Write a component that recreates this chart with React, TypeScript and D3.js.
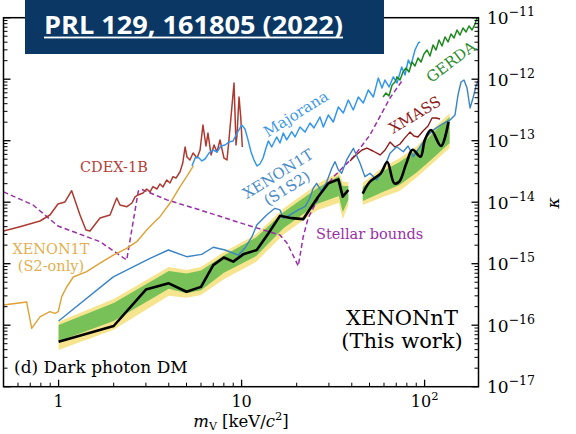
import React from 'react';
import * as d3 from 'd3';

// ---------------- data (mass in keV/c^2, kappa) ----------------
const nTMass1 = [1, 2, 3, 4, 5, 6, 7, 8, 9, 10.2, 12.1, 14, 16.2, 18.8, 21.7, 26.2, 29.8, 33.8, 35.7, 38.3];
const nTLimit1 = [5.4e-17, 9.7e-17, 3.8e-16, 4.8e-16, 3.5e-16, 4.2e-16, 9.5e-16, 1.26e-15, 1.08e-15, 1.42e-15, 1.67e-15, 3.1e-15, 6.0e-15, 5.5e-15, 5.3e-15, 1.23e-14, 2.03e-14, 2.35e-14, 1.23e-14, 1.58e-14];
const nTMass2 = [45.9, 50.2, 57.6, 62.5, 68.3, 72.6, 79.5, 85.9, 95, 100.3, 108.4, 122.9, 135.1];
const nTLimit2 = [1.38e-14, 2.15e-14, 2.95e-14, 4.5e-14, 2.03e-14, 2.15e-14, 4.3e-14, 7.1e-14, 5.5e-14, 1.03e-13, 1.49e-13, 8.2e-14, 2.04e-13];

const bandMass1 = [1, 2, 4, 5, 6, 8, 12, 17, 26, 34, 35.7, 38.3];
const band1Up2 = [1.14e-16, 2.67e-16, 8.8e-16, 7.9e-16, 8.8e-16, 1.55e-15, 3.0e-15, 8.0e-15, 1.98e-14, 3.1e-14, 2.13e-14, 2.13e-14];
const band1Up1 = [1.01e-16, 2.3e-16, 7.6e-16, 6.9e-16, 7.75e-16, 1.36e-15, 2.67e-15, 6.9e-15, 1.7e-14, 2.67e-14, 1.83e-14, 1.83e-14];
const band1Lo1 = [5.5e-17, 1.17e-16, 3.9e-16, 3.3e-16, 3.7e-16, 7.1e-16, 1.33e-15, 3.8e-15, 9.4e-15, 1.26e-14, 6.9e-15, 1.09e-14];
const band1Lo2 = [3.95e-17, 8.4e-17, 3.0e-16, 2.8e-16, 3.1e-16, 5.6e-16, 1.07e-15, 3.0e-15, 7.5e-15, 9.7e-15, 5.3e-15, 9.0e-15];

const bandMass2 = [45.9, 59, 73, 91, 111, 137];
const band2Up2 = [2.05e-14, 3.7e-14, 5.2e-14, 8.2e-14, 1.55e-13, 2.8e-13];
const band2Up1 = [1.77e-14, 3.2e-14, 4.5e-14, 7.1e-14, 1.33e-13, 2.43e-13];
const band2Lo1 = [1.05e-14, 1.47e-14, 1.9e-14, 3.1e-14, 5.2e-14, 9.2e-14];
const band2Lo2 = [9.0e-15, 1.22e-14, 1.52e-14, 2.57e-14, 4.33e-14, 7.6e-14];

const s1s2Mass = [1.0, 1.99, 3.16, 3.98, 5.01, 6.05, 7.0, 8.12, 9.6, 10.4, 11.4, 12.1, 13.7, 15.2, 16.2, 16.9, 18.4, 20.4, 22.2, 23.6, 24.6, 25.7, 27.4, 29.2, 31.1, 32.4, 33.8, 35.2, 37.5, 40.8, 44.4, 47.2, 50.3, 54.7, 59.5, 64.7, 70.4, 76.5, 81.2, 86.8, 94.4, 102.7, 111.6, 118.8, 126.6, 137.7, 146.6, 152.2, 158.1, 164.2, 170.5, 177.1, 183.9, 190.9, 197];
const s1s2Kappa = [1.17e-16, 6.1e-16, 1.22e-15, 1.67e-15, 1.3e-15, 1.42e-15, 1.85e-15, 1.67e-15, 1.38e-15, 1.78e-15, 2.75e-15, 4.26e-15, 6.2e-15, 7.96e-15, 7.5e-15, 5.47e-15, 6.2e-15, 7.5e-15, 8.45e-15, 1.16e-14, 1.68e-14, 2.03e-14, 1.48e-14, 2.15e-14, 3.56e-14, 4.56e-14, 3.34e-14, 2.95e-14, 4.86e-14, 7.52e-14, 4.29e-14, 2.6e-14, 2.95e-14, 2.3e-14, 3.34e-14, 6.24e-14, 7.99e-14, 6.62e-14, 8.2e-14, 5.5e-14, 7.99e-14, 1.16e-13, 1.49e-13, 1.69e-13, 1.92e-13, 2.17e-13, 2.62e-13, 5.53e-13, 9.0e-13, 9.7e-13, 7.2e-13, 3.4e-13, 4.95e-13, 7.75e-13, 9.7e-13];

const s2Mass = [0.5, 0.669, 0.713, 0.791, 0.843, 0.897, 0.956, 0.996, 1.04, 1.107, 1.203, 1.424, 1.684, 1.99, 2.356, 2.672, 3.03, 3.29, 3.58, 4.06, 4.61, 5.01, 5.45];
const s2Kappa = [2.13e-16, 2.38e-16, 8.9e-17, 1.37e-16, 1.52e-16, 1.66e-16, 1.56e-16, 1.66e-16, 2.91e-16, 4.18e-16, 6.08e-16, 7.41e-16, 1.02e-15, 1.38e-15, 1.78e-15, 2.28e-15, 3.53e-15, 4.54e-15, 5.81e-15, 9.6e-15, 1.79e-14, 2.6e-14, 3.88e-14];

const cdexMass = [0.5, 0.615, 0.791, 0.897, 0.992, 1.084, 1.179, 1.309, 1.411, 1.484, 1.684, 1.91, 2.078, 2.165, 2.365, 2.518, 2.615, 2.716, 2.892, 3.03, 3.158, 3.28, 3.45, 3.58, 3.72, 3.9, 4.06, 4.22, 4.38, 4.61, 4.77, 4.91, 5.03, 5.22, 5.43, 5.71, 5.93, 6.15, 6.39, 6.55, 6.81, 7.07, 7.34, 7.62, 8.01, 8.32, 8.53, 8.75, 9.09, 9.32, 9.44, 9.68, 9.89, 10.09];
const cdexKappa = [3.4e-15, 4.0e-15, 4.95e-15, 6.19e-15, 9.35e-15, 1.01e-14, 1.54e-14, 6.19e-15, 3.53e-15, 3.4e-15, 5.53e-15, 6.19e-15, 1.17e-14, 9.0e-15, 8.45e-15, 9.7e-15, 1.22e-14, 1.31e-14, 1.41e-14, 1.64e-14, 1.47e-14, 1.79e-14, 1.64e-14, 1.98e-14, 1.77e-14, 2.3e-14, 2.05e-14, 2.6e-14, 2.47e-14, 3.13e-14, 4.34e-14, 7.9e-14, 5.43e-14, 4.86e-14, 6.3e-14, 5.23e-14, 7.06e-14, 1.8e-13, 8.2e-14, 1.33e-13, 5.86e-14, 8.51e-14, 6.55e-14, 1.03e-13, 5.23e-14, 4.86e-14, 1.03e-13, 2.43e-13, 8.67e-13, 8.51e-14, 1.24e-13, 5.14e-13, 2.43e-13, 7.9e-14];

const majMass = [5.36, 5.57, 5.78, 6.07, 6.31, 6.63, 6.98, 7.34, 7.72, 8.12, 8.53, 8.98, 9.44, 10.01, 10.44, 10.84, 11.26, 11.69, 12.14, 12.6, 13.1, 13.6, 14.0, 14.6, 15.55, 16.2, 16.9, 17.64, 18.78, 19.58, 20.85, 22.2, 23.65, 24.86, 26.8, 27.96, 29.77, 31.7, 33.77, 35.96, 38.28, 40.77, 43.42, 46.24, 49.24, 52.45, 55.85, 58.5, 60.75, 63.9, 67.45, 70.7, 74.98, 78.15, 81.47, 84.3, 88.6, 92.4, 94.4];
const majKappa = [3.88e-14, 5.23e-14, 5.43e-14, 4.68e-14, 5.04e-14, 6.3e-14, 7.06e-14, 6.55e-14, 8.2e-14, 8.51e-14, 9.5e-14, 9.9e-14, 1.33e-13, 1.8e-13, 1.55e-13, 1.03e-13, 6.55e-14, 4.86e-14, 3.88e-14, 4.18e-14, 5.23e-14, 7.6e-14, 9.9e-14, 7.9e-14, 1.15e-13, 9.18e-14, 1.33e-13, 1.03e-13, 1.4e-13, 1.15e-13, 1.67e-13, 1.38e-13, 1.94e-13, 1.61e-13, 2.43e-13, 1.67e-13, 2.62e-13, 2.01e-13, 3.53e-13, 2.82e-13, 4.59e-13, 3.16e-13, 5.14e-13, 4.1e-13, 6.67e-13, 5.14e-13, 1.05e-12, 7.2e-13, 9.7e-13, 7.47e-13, 1.09e-12, 8.67e-13, 1.58e-12, 1.17e-12, 2.05e-12, 1.7e-12, 2.98e-12, 3.88e-12, 4.03e-12];

const stellarMass = [0.5, 0.725, 0.992, 1.684, 2.356, 2.727, 2.855, 3.91, 5.93, 10.7, 16.2, 17.7, 20.4, 21.7, 23.1, 26.8, 31.7, 40.8, 50.3, 64.7, 76.5];
const stellarKappa = [1.47e-14, 9.0e-15, 4.1e-15, 2.28e-15, 1.15e-15, 1.52e-14, 1.61e-14, 1.09e-14, 7.47e-15, 4.26e-15, 2.93e-15, 2.17e-15, 9.2e-16, 2.72e-15, 5.53e-15, 1.31e-14, 2.57e-14, 5.43e-14, 1.24e-13, 4.95e-13, 1.01e-12];

const xmassMass = [39.1, 42.2, 45.5, 48.4, 52.2, 57.1, 60.8, 64.7, 68.9, 73.4, 77.2, 83.2, 87.5, 92.0, 98.0, 104.4, 109.8, 115.4, 121.4];
const xmassKappa = [4.68e-14, 5.86e-14, 7.06e-14, 7.6e-14, 6.8e-14, 5.86e-14, 7.06e-14, 9.5e-14, 7.9e-14, 8.84e-14, 1.07e-13, 1.38e-13, 1.19e-13, 1.15e-13, 1.44e-13, 1.73e-13, 2.34e-13, 2.34e-13, 2.25e-13];

const gerdaMass = [59.3, 61.5, 63.9, 66.4, 68.9, 70.7, 73.4, 76.2, 79.1, 82.2, 85.3, 88.6, 92.0, 95.6, 99.2, 103.1, 107.0, 111.2, 115.4, 119.9, 124.5, 129.3, 134.3, 139.4, 144.8, 150.3, 156.1, 162.1, 168.4, 174.8, 181.6, 188.6, 193.4, 197];
const gerdaKappa = [5.14e-13, 5.97e-13, 5.33e-13, 8.05e-13, 9.0e-13, 1.09e-12, 9.7e-13, 1.31e-12, 1.52e-12, 1.31e-12, 1.9e-12, 1.64e-12, 2.21e-12, 1.9e-12, 2.57e-12, 2.98e-12, 2.38e-12, 3.6e-12, 2.98e-12, 4.34e-12, 3.47e-12, 4.86e-12, 4.03e-12, 5.43e-12, 4.68e-12, 6.3e-12, 5.23e-12, 6.8e-12, 5.86e-12, 7.33e-12, 6.3e-12, 7.9e-12, 9.9e-12, 1.15e-11];

const xDomain = [0.5, 197];
const yDomain = [1e-17, 1e-11];
const xMajorLabels = [1, 10, 100];
const yExponents = [-17, -16, -15, -14, -13, -12, -11];

// ---------------- layout ----------------
const X0 = 3.5, X1 = 478.5, YB = 386.7, YT = 17.7;
const x = d3.scaleLog().domain(xDomain).range([X0, X1]);
const y = d3.scaleLog().domain(yDomain).range([YB, YT]);

type P = [number, number];
const zip = (a: number[], b: number[]): P[] => a.map((v, i) => [v, b[i]]);
const lin = d3.line<P>().x(d => x(d[0])).y(d => y(d[1]));
const smooth = d3.line<P>().x(d => x(d[0])).y(d => y(d[1])).curve(d3.curveCatmullRom.alpha(0.5));
const bandPath = (m: number[], lo: number[], hi: number[]) =>
  d3.area<number>().x((_, i) => x(m[i])).y0((_, i) => y(lo[i])).y1((_, i) => y(hi[i]))(m) || '';

const isMajor = (t: number) => Math.abs(Math.log10(t) - Math.round(Math.log10(t))) < 1e-9;

const SERIF = "'DejaVu Serif', serif";

export default function App() {
  const xTicks = x.ticks();
  const yTicks = y.ticks();
  return (
    <div style={{ position: 'absolute', left: 0, top: 0 }}>
      <svg width={576} height={434} fontFamily={SERIF}>
        <defs>
          <clipPath id="plotClip">
            <rect x={X0} y={YT} width={X1 - X0} height={YB - YT} />
          </clipPath>
        </defs>
        <rect x={0} y={0} width={576} height={434} fill="#ffffff" />
        <g clipPath="url(#plotClip)" fill="none" strokeLinejoin="round">
          <path d={bandPath(bandMass1, band1Lo2, band1Up2)} fill="#f7e48e" />
          <path d={bandPath(bandMass1, band1Lo1, band1Up1)} fill="#77c158" />
          <path d={bandPath(bandMass2, band2Lo2, band2Up2)} fill="#f7e48e" />
          <path d={bandPath(bandMass2, band2Lo1, band2Up1)} fill="#77c158" />

          <path d={lin(zip(stellarMass, stellarKappa)) || ''} stroke="#9a2fa8" strokeWidth={1.5} strokeDasharray="5,3" />
          <path d={lin(zip(s2Mass, s2Kappa)) || ''} stroke="#dea233" strokeWidth={1.4} />
          <path d={lin(zip(cdexMass, cdexKappa)) || ''} stroke="#ad3a30" strokeWidth={1.5} />
          <path d={lin(zip(majMass, majKappa)) || ''} stroke="#3597ec" strokeWidth={1.5} />
          <path d={lin(zip(gerdaMass, gerdaKappa)) || ''} stroke="#1e8a1e" strokeWidth={1.5} />
          <path d={lin(zip(xmassMass, xmassKappa)) || ''} stroke="#8e1c1c" strokeWidth={1.4} />
          <path d={lin(zip(s1s2Mass, s1s2Kappa)) || ''} stroke="#3a84c6" strokeWidth={1.4} />

          <path d={lin(zip(nTMass1, nTLimit1)) || ''} stroke="#000" strokeWidth={2.6} />
          <path d={smooth(zip(nTMass2, nTLimit2)) || ''} stroke="#000" strokeWidth={2.6} />
        </g>

        {/* frame */}
        <rect x={X0} y={YT} width={X1 - X0} height={YB - YT} fill="none" stroke="#000" strokeWidth={1.5} />

        {/* x ticks */}
        {xTicks.map((t, i) => {
          const len = isMajor(t) ? 7 : 4;
          return <line key={'xt' + i} x1={x(t)} x2={x(t)} y1={YB} y2={YB - len} stroke="#000" strokeWidth={isMajor(t) ? 1.3 : 1} />;
        })}
        {/* y ticks left and right */}
        {yTicks.map((t, i) => {
          const len = isMajor(t) ? 7 : 4;
          const w = isMajor(t) ? 1.3 : 1;
          return (
            <g key={'yt' + i}>
              <line x1={X0} x2={X0 + len} y1={y(t)} y2={y(t)} stroke="#000" strokeWidth={w} />
              <line x1={X1} x2={X1 - len} y1={y(t)} y2={y(t)} stroke="#000" strokeWidth={w} />
            </g>
          );
        })}

        {/* x tick labels */}
        {xMajorLabels.map(t => (
          <text key={'xl' + t} x={x(t)} y={407} textAnchor="middle" fontSize={16}>
            {t === 100 ? (<>10<tspan fontSize={11.5} dy={-7}>2</tspan></>) : String(t)}
          </text>
        ))}
        {/* y tick labels (right) */}
        {yExponents.map(e => (
          <text key={'yl' + e} x={487} y={y(Math.pow(10, e)) + 6.5} fontSize={17}>
            10<tspan fontSize={12.5} dy={-8}>{'\u2212' + Math.abs(e)}</tspan>
          </text>
        ))}

        {/* axis labels */}
        <text x={241} y={427} textAnchor="middle" fontSize={16.5}>
          <tspan fontStyle="italic">m</tspan>
          <tspan fontSize={11} dy={3}>V</tspan>
          <tspan dy={-3}>{' [keV/'}</tspan>
          <tspan fontStyle="italic">c</tspan>
          <tspan fontSize={11.5} dy={-7}>2</tspan>
          <tspan dy={7}>]</tspan>
        </text>
        <text transform="translate(553,203) rotate(-90)" textAnchor="middle" dominantBaseline="central" fontSize={17} fontStyle="italic">κ</text>

        {/* curve labels */}
        <text x={80} y={171.7} fontSize={14.5} fill="#b5413b">CDEX-1B</text>
        <text x={51} y={253.5} fontSize={14.5} fill="#e2b04f" textAnchor="middle">XENON1T</text>
        <text x={51} y={270.5} fontSize={14.5} fill="#e2b04f" textAnchor="middle">(S2-only)</text>
        <text transform="translate(296,114) rotate(-32)" fontSize={15} fill="#3d98e6" textAnchor="middle" dominantBaseline="central">Majorana</text>
        <g transform="translate(278,174) rotate(-32)">
          <text x={0} y={0} fontSize={15} fill="#4a8cc8" textAnchor="middle" dominantBaseline="central">XENON1T</text>
          <text x={0} y={17} fontSize={15} fill="#4a8cc8" textAnchor="middle" dominantBaseline="central">(S1S2)</text>
        </g>
        <text transform="translate(415,115) rotate(-31)" fontSize={15} fill="#8e1c1c" textAnchor="middle" dominantBaseline="central">XMASS</text>
        <text transform="translate(451,62) rotate(-37)" fontSize={15} fill="#2a8a2a" textAnchor="middle" dominantBaseline="central">GERDA</text>
        <text x={316} y={239} fontSize={14.5} fill="#9a2fa8">Stellar bounds</text>

        <text x={402} y={325} fontSize={21} textAnchor="middle">XENONnT</text>
        <text x={402} y={348} fontSize={21} textAnchor="middle">(This work)</text>
        <text x={14} y={372.7} fontSize={17}>(d) Dark photon DM</text>

        {/* title box */}
        <rect x={25} y={0} width={359} height={54} fill="#0a3764" />
        <text x={44} y={34} fill="#ffffff" fontFamily="'Open Sans', sans-serif" fontWeight={700} fontSize={24.5} textLength={299} lengthAdjust="spacingAndGlyphs">PRL 129, 161805 (2022)</text>
        <rect x={44} y={36.6} width={299} height={1.8} fill="#ffffff" />
      </svg>
    </div>
  );
}
